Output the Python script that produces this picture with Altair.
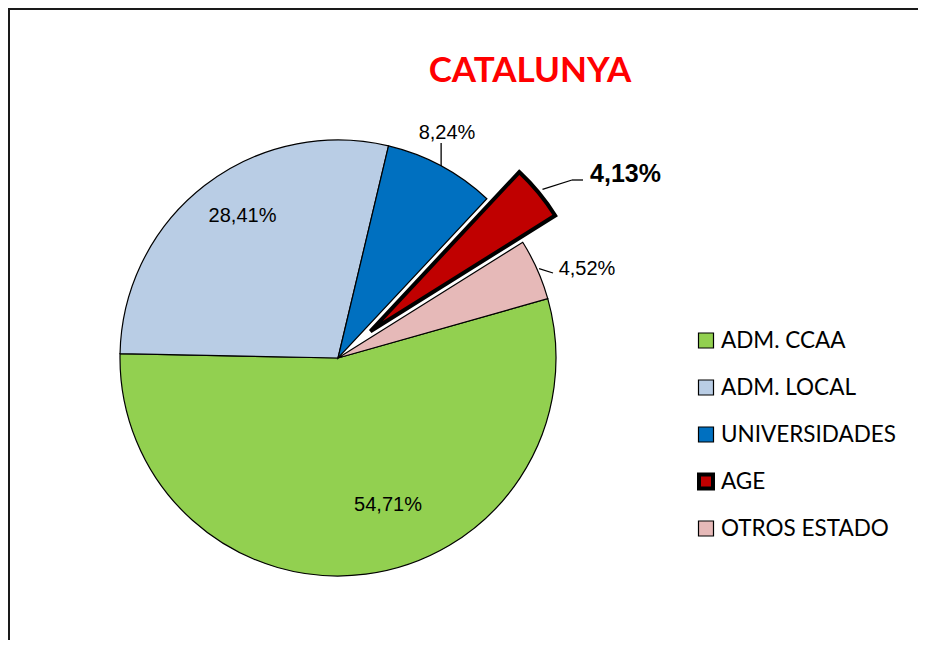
import math
import altair as alt
import pandas as pd

# ---- data ----
categories = ["ADM. CCAA", "ADM. LOCAL", "UNIVERSIDADES", "AGE", "OTROS ESTADO"]
values = [54.71, 28.41, 8.24, 4.13, 4.52]
labels = ["54,71%", "28,41%", "8,24%", "4,13%", "4,52%"]
colors = ["#92D050", "#B9CDE5", "#0070C0", "#C00000", "#E6B9B8"]
title_text = "CATALUNYA"

# ---- layout ----
W, H = 910, 632
CX, CY = 330, 350
R = 218
START = math.radians(74.2)
EXPLODE = 42
total = sum(values)

df = pd.DataFrame({"cat": categories, "value": values, "label": labels})
df["t1"] = df["value"].cumsum()
df["t0"] = df["t1"] - df["value"]
df["mid"] = START + (df["t0"] + df["t1"]) / 2 / total * 2 * math.pi

age = df[df["cat"] == "AGE"].iloc[0]
AX = CX + EXPLODE * math.sin(age["mid"])
AY = CY - EXPLODE * math.cos(age["mid"])

theta_scale = alt.Scale(domain=[0, total], range=[START, START + 2 * math.pi])
color_scale = alt.Scale(domain=categories, range=colors)

main_arcs = alt.Chart(df).transform_filter(alt.datum.cat != "AGE").mark_arc(
    outerRadius=R, stroke="black", strokeWidth=1.2
).encode(
    theta=alt.Theta("t0:Q", scale=theta_scale),
    theta2="t1:Q",
    color=alt.Color("cat:N", scale=color_scale, legend=None),
    x=alt.value(CX), y=alt.value(CY),
)

age_arc = alt.Chart(df).transform_filter(alt.datum.cat == "AGE").mark_arc(
    outerRadius=R, stroke="black", strokeWidth=4, strokeJoin="miter"
).encode(
    theta=alt.Theta("t0:Q", scale=theta_scale),
    theta2="t1:Q",
    color=alt.Color("cat:N", scale=color_scale, legend=None),
    x=alt.value(AX), y=alt.value(AY),
)

# label positions (text anchor, alphabetic baseline)
label_pos = {
    "ADM. CCAA": (380, 503),
    "ADM. LOCAL": (234.5, 214),
    "UNIVERSIDADES": (439, 131),
    "AGE": (617.5, 174),
    "OTROS ESTADO": (579, 267),
}
lab = df.copy()
lab["lx"] = lab["cat"].map(lambda c: label_pos[c][0])
lab["ly"] = lab["cat"].map(lambda c: label_pos[c][1])

normal_labels = alt.Chart(lab).transform_filter(alt.datum.cat != "AGE").mark_text(
    font="Liberation Sans", fontSize=20, color="#000000", align="center", baseline="alphabetic"
).encode(
    x=alt.X("lx:Q", scale=None), y=alt.Y("ly:Q", scale=None), text="label:N"
)
age_label = alt.Chart(lab).transform_filter(alt.datum.cat == "AGE").mark_text(
    font="Liberation Sans", fontSize=25, fontWeight="bold", color="#000000",
    align="center", baseline="alphabetic"
).encode(
    x=alt.X("lx:Q", scale=None), y=alt.Y("ly:Q", scale=None), text="label:N"
)

# leader lines, starting on the slice edge at the slice mid-angle
def edge(cx, cy, ang, r):
    return cx + r * math.sin(ang), cy - r * math.cos(ang)

univ = df[df["cat"] == "UNIVERSIDADES"].iloc[0]
otros = df[df["cat"] == "OTROS ESTADO"].iloc[0]
ux, uy = edge(CX, CY, univ["mid"], R)
gx, gy = edge(AX, AY, age["mid"], R + 5)
ox, oy = edge(CX, CY, otros["mid"], R + 2)
leaders = pd.DataFrame({
    "x1": [ux, gx, 564, ox],
    "y1": [uy, gy, 172, oy],
    "x2": [ux, 564, 575, 545],
    "y2": [135, 172, 172, 265],
})
leader_rules = alt.Chart(leaders).mark_rule(color="black", strokeWidth=1.3).encode(
    x=alt.X("x1:Q", scale=None), y=alt.Y("y1:Q", scale=None),
    x2="x2:Q", y2="y2:Q",
)

# legend
leg = pd.DataFrame({"cat": categories})
leg_y = alt.Y("cat:N", scale=alt.Scale(type="point", domain=categories, range=[332.5, 520.5], padding=0), axis=None)
leg_squares = alt.Chart(leg).mark_square(opacity=1, stroke="black").encode(
    x=alt.value(698),
    y=leg_y,
    color=alt.Color("cat:N", scale=color_scale, legend=None),
    size=alt.condition(alt.datum.cat == "AGE", alt.value(196), alt.value(225)),
    strokeWidth=alt.condition(alt.datum.cat == "AGE", alt.value(4), alt.value(1.2)),
)
leg_text = alt.Chart(leg).mark_text(
    font="Lato", fontSize=22.5, color="#000000", align="left", baseline="middle"
).encode(
    x=alt.value(713), y=leg_y, text="cat:N"
)

# title
title = alt.Chart(pd.DataFrame({"t": [title_text]})).mark_text(
    font="Lato", fontSize=35, fontWeight="bold", color="#FF0000", align="center", baseline="alphabetic"
).encode(x=alt.value(522), y=alt.value(74), text="t:N")

# frame lines (left and top)
frame_left = alt.Chart(pd.DataFrame({"a": [0]})).mark_rule(color="#1a1a1a", strokeWidth=2).encode(
    x=alt.value(1), y=alt.value(0), y2=alt.value(H)
)
frame_top = alt.Chart(pd.DataFrame({"a": [0]})).mark_rule(color="#1a1a1a", strokeWidth=2).encode(
    x=alt.value(0), x2=alt.value(W), y=alt.value(1)
)

chart = alt.layer(
    frame_left, frame_top, main_arcs, age_arc, leader_rules,
    normal_labels, age_label, leg_squares, leg_text, title
).resolve_scale(
    x="independent", y="independent", color="shared"
).properties(
    width=W, height=H, padding=0, autosize=alt.AutoSizeParams(type="none"),
    background="white"
).configure_view(stroke=None)

chart.save("out.html", embed_options={"renderer": "svg", "actions": False})
